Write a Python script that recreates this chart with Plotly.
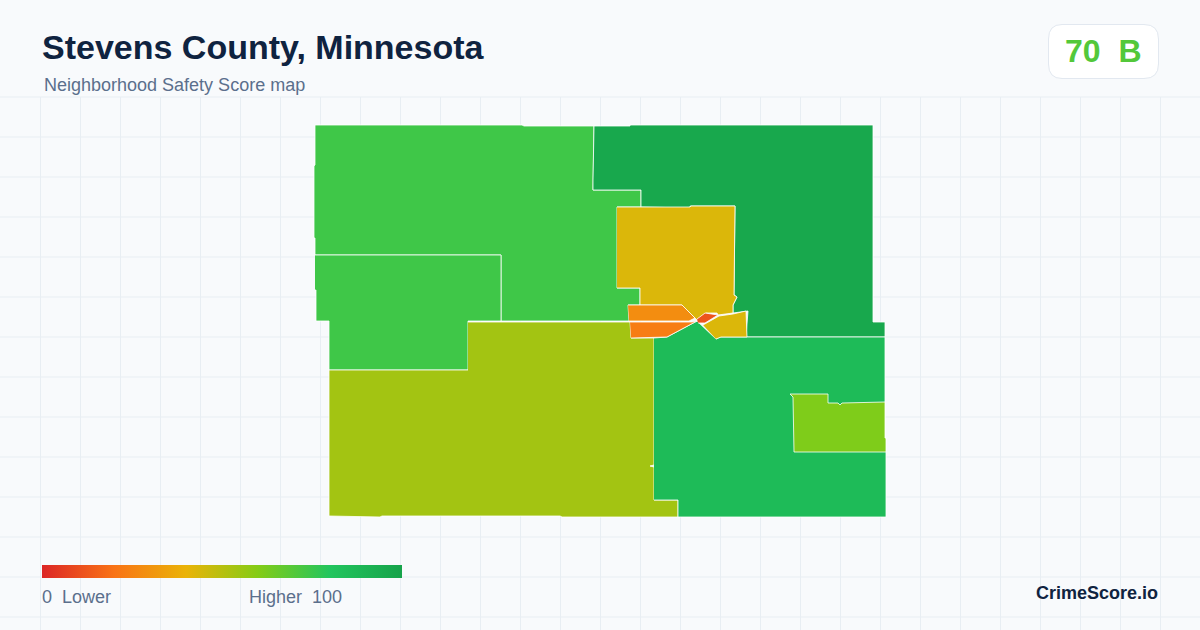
import plotly.graph_objects as go

W = 1200
H = 630

tract_names = ["north_west", "north_east", "west", "south_west", "south_east", "east_pocket",
               "town_north", "town_west_upper", "town_west_lower", "town_core", "town_east"]
tract_scores = [74, 97, 74, 54, 86, 61, 43, 28, 23, 12, 43]

north_west_x = [315, 522, 524, 594, 593, 641, 641, 617, 617, 640, 640, 628, 629, 501, 501, 315, 315, 314, 314, 315, 315]
north_west_y = [125, 125, 126, 126, 190, 190, 207, 207, 288, 288, 305, 305, 321, 321, 255, 255, 238, 238, 166, 165, 125]
north_east_x = [594, 630, 630, 873, 873, 885, 885, 746, 748, 733, 733, 737, 734, 735, 690, 690, 641, 641, 593, 593, 594]
north_east_y = [126, 126, 125, 125, 322, 322, 337, 337, 311, 313, 305, 297, 295, 206, 206, 208, 207, 190, 190, 180, 126]
west_x = [315, 501, 501, 468, 468, 329, 329, 316, 316, 315]
west_y = [255, 255, 321, 321, 370, 370, 321, 321, 290, 290]
south_west_x = [468, 630, 631, 654, 654, 650, 654, 654, 678, 678, 562, 560, 382, 380, 329, 329, 468]
south_west_y = [322, 322, 338, 338, 465, 466, 467, 500, 500, 517, 517, 516, 516, 517, 516, 370, 370]
south_east_x = [654, 667, 697, 716, 720, 885, 885, 886, 886, 678, 678, 654]
south_east_y = [338, 337, 321, 339, 337, 337, 438, 438, 517, 517, 500, 500]
east_pocket_x = [790, 828, 828, 838, 840, 842, 885, 885, 886, 886, 794, 793, 790]
east_pocket_y = [394, 394, 403, 403, 405, 403, 402, 438, 438, 452, 452, 397, 394]
town_north_x = [617, 690, 691, 735, 734, 737, 733, 733, 718, 717, 706, 697, 682, 640, 640, 617]
town_north_y = [207, 207, 206, 206, 295, 297, 305, 313, 315, 313, 313, 320, 305, 305, 288, 288]
town_west_upper_x = [628, 682, 695, 689, 629]
town_west_upper_y = [305, 305, 318, 321, 321]
town_west_lower_x = [630, 692, 697, 667, 631]
town_west_lower_y = [322, 322, 321, 337, 338]
town_core_x = [697, 705, 718, 705, 698]
town_core_y = [319, 313, 315, 323, 323]
town_east_x = [703, 719, 733, 746, 747, 721, 716]
town_east_y = [325, 316, 314, 311, 337, 337, 339]

tract_x = [north_west_x, north_east_x, west_x, south_west_x, south_east_x, east_pocket_x,
           town_north_x, town_west_upper_x, town_west_lower_x, town_core_x, town_east_x]
tract_y = [north_west_y, north_east_y, west_y, south_west_y, south_east_y, east_pocket_y,
           town_north_y, town_west_upper_y, town_west_lower_y, town_core_y, town_east_y]

score_stops = [0.0, 0.2, 0.4, 0.6, 0.8, 1.0]
score_colors = ["#dc2626", "#f97316", "#eab308", "#84cc16", "#22c55e", "#16a34a"]
colorscale = [[s, c] for s, c in zip(score_stops, score_colors)]

county_score = 70
county_grade = "B"


def score_color(score):
    pos = score / 100
    for i in range(len(score_stops) - 1):
        if pos <= score_stops[i + 1]:
            t = (pos - score_stops[i]) / (score_stops[i + 1] - score_stops[i])
            c0 = score_colors[i]
            c1 = score_colors[i + 1]
            rgb = [round(int(c0[k:k + 2], 16) * (1 - t) + int(c1[k:k + 2], 16) * t) for k in (1, 3, 5)]
            return f"rgb({rgb[0]},{rgb[1]},{rgb[2]})"
    return score_colors[-1]


fig = go.Figure()

for name, xs, ys, score in zip(tract_names, tract_x, tract_y, tract_scores):
    fig.add_trace(go.Scatter(x=xs, y=ys, mode="lines", fill="toself", name=name,
                             fillcolor=score_color(score), hoverinfo="skip",
                             line=dict(color="#ffffff", width=0.8)))

# dummy trace just for the score bar
fig.add_trace(go.Scatter(x=[None], y=[None], mode="markers", hoverinfo="skip",
                         marker=dict(color=[0], cmin=0, cmax=100, colorscale=colorscale, showscale=True,
                                     colorbar=dict(orientation="h", lenmode="pixels", len=360,
                                                   thicknessmode="pixels", thickness=13,
                                                   x=42 / W, xanchor="left", y=1 - 565 / H, yanchor="top",
                                                   xpad=0, ypad=0, outlinewidth=0, showticklabels=False,
                                                   ticks="", bgcolor="rgba(0,0,0,0)"))))

shapes = []
grid_color = "#e8eef3"
for gx in range(40, W, 40):
    shapes.append(dict(type="line", x0=gx + 0.5, x1=gx + 0.5, y0=97, y1=H, layer="below",
                       line=dict(color=grid_color, width=1)))
for gy in range(97, H, 40):
    shapes.append(dict(type="line", x0=0, x1=W, y0=gy, y1=gy, layer="below",
                       line=dict(color=grid_color, width=1)))
# score badge
shapes.append(dict(type="path", layer="below", fillcolor="#ffffff", line=dict(color="#e2e8f0", width=1),
                   path="M 1062 24.5 L 1144 24.5 Q 1158.5 24.5 1158.5 39 L 1158.5 64 Q 1158.5 78.5 1144 78.5 "
                        "L 1062 78.5 Q 1048.5 78.5 1048.5 64 L 1048.5 39 Q 1048.5 24.5 1062 24.5 Z"))


def label(x, y, text, size, color, bold=False, anchor="left"):
    fig.add_annotation(x=x, y=y, text=f"<b>{text}</b>" if bold else text, showarrow=False,
                       xanchor=anchor, yanchor="middle", borderpad=0, borderwidth=0,
                       font=dict(family="Liberation Sans", size=size, color=color))


slate = "#5b6f8c"
label(42, 47, "Stevens County, Minnesota", 34, "#0f2340", bold=True)
label(44, 85, "Neighborhood Safety Score map", 18, slate)
label(1065, 51, f"{county_score}\u00a0\u00a0{county_grade}", 32, score_color(county_score), bold=True)
label(42, 597, "0\u00a0\u00a0Lower", 18, slate)
label(249, 597, "Higher\u00a0\u00a0100", 18, slate)
label(1036, 593, "CrimeScore.io", 18, "#0f2340", bold=True)

fig.update_layout(width=W, height=H, margin=dict(l=0, r=0, t=0, b=0, autoexpand=False),
                  paper_bgcolor="#f8fafc", plot_bgcolor="#f8fafc", showlegend=False, shapes=shapes,
                  xaxis=dict(range=[0, W], visible=False, fixedrange=True),
                  yaxis=dict(range=[H, 0], visible=False, fixedrange=True))

fig.write_html("out.html", config=dict(displayModeBar=False), post_script="document.body.style.margin='0';")
